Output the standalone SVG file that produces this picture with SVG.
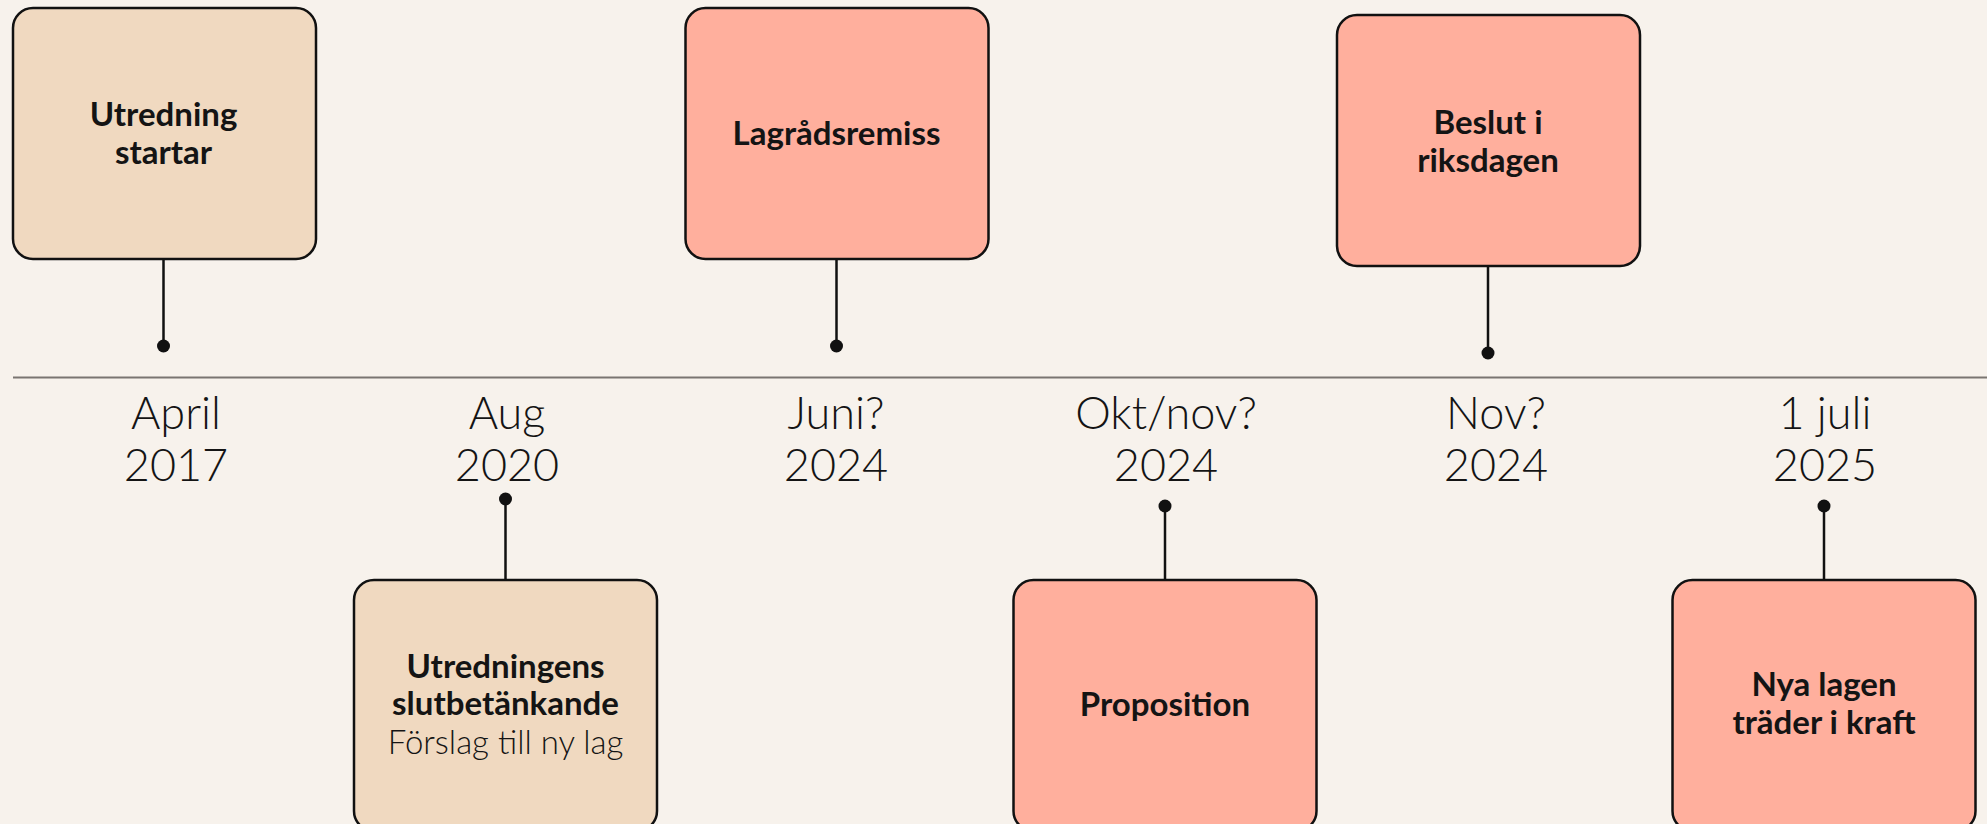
<svg xmlns="http://www.w3.org/2000/svg" width="1987" height="824" viewBox="0 0 1987 824">
<style>
.bg{fill:#F7F2EC}
.box{stroke:#111;stroke-width:2.5}
.tan{fill:#F0D9C0}
.sal{fill:#FFAF9D}
.stem{stroke:#111;stroke-width:2.5;fill:none}
.dot{fill:#111}
.axis{stroke:#7A7571;stroke-width:2}
.t{font-family:Lato,"Open Sans","Liberation Sans",sans-serif;font-weight:700;font-size:33px;fill:#141414;text-anchor:middle}
.s{font-family:Lato,"Open Sans","Liberation Sans",sans-serif;font-weight:300;font-size:33px;fill:#141414;text-anchor:middle}
.d{font-family:Lato,"Open Sans","Liberation Sans",sans-serif;font-weight:300;font-size:45px;fill:#141414;text-anchor:middle}
</style>
<rect class="bg" x="0" y="0" width="1987" height="824"/>
<g id="connectors">
<line class="axis" x1="13" y1="377.5" x2="1987" y2="377.5"/>
<line class="stem" x1="163.5" y1="259" x2="163.5" y2="346"/>
<circle class="dot" cx="163.5" cy="346" r="6.5"/>
<line class="stem" x1="836.5" y1="259" x2="836.5" y2="346"/>
<circle class="dot" cx="836.5" cy="346" r="6.5"/>
<line class="stem" x1="1488" y1="266" x2="1488" y2="353"/>
<circle class="dot" cx="1488" cy="353" r="6.5"/>
<line class="stem" x1="505.5" y1="499" x2="505.5" y2="580"/>
<circle class="dot" cx="505.5" cy="499" r="6.5"/>
<line class="stem" x1="1165" y1="506" x2="1165" y2="580"/>
<circle class="dot" cx="1165" cy="506" r="6.5"/>
<line class="stem" x1="1824" y1="506" x2="1824" y2="580"/>
<circle class="dot" cx="1824" cy="506" r="6.5"/>
</g>
<g id="dates">
<text class="d" x="176" y="429">April</text><text class="d" x="176" y="481">2017</text>
<text class="d" x="507" y="429">Aug</text><text class="d" x="507" y="481">2020</text>
<text class="d" x="836" y="429">Juni?</text><text class="d" x="836" y="481">2024</text>
<text class="d" x="1166" y="429">Okt/nov?</text><text class="d" x="1166" y="481">2024</text>
<text class="d" x="1496" y="429">Nov?</text><text class="d" x="1496" y="481">2024</text>
<text class="d" x="1825" y="429">1 juli</text><text class="d" x="1825" y="481">2025</text>
</g>
<g id="n1">
<rect class="box tan" x="13" y="8" width="303" height="251" rx="20"/>
<text class="t" x="163.5" y="126">Utredning</text>
<text class="t" x="163.5" y="164">startar</text>
</g>
<g id="n2">
<rect class="box sal" x="685.5" y="8" width="303" height="251" rx="20"/>
<text class="t" x="836.5" y="145">Lagrådsremiss</text>
</g>
<g id="n3">
<rect class="box sal" x="1337" y="15" width="303" height="251" rx="20"/>
<text class="t" x="1488" y="134">Beslut i</text>
<text class="t" x="1488" y="172">riksdagen</text>
</g>
<g id="n4">
<rect class="box tan" x="354" y="580" width="303" height="251" rx="20"/>
<text class="t" x="505.5" y="678">Utredningens</text>
<text class="t" x="505.5" y="715">slutbetänkande</text>
<text class="s" x="505.5" y="754">Förslag till ny lag</text>
</g>
<g id="n5">
<rect class="box sal" x="1013.5" y="580" width="303" height="251" rx="20"/>
<text class="t" x="1165" y="716">Proposition</text>
</g>
<g id="n6">
<rect class="box sal" x="1672.5" y="580" width="303" height="251" rx="20"/>
<text class="t" x="1824" y="696">Nya lagen</text>
<text class="t" x="1824" y="734">träder i kraft</text>
</g>
</svg>
